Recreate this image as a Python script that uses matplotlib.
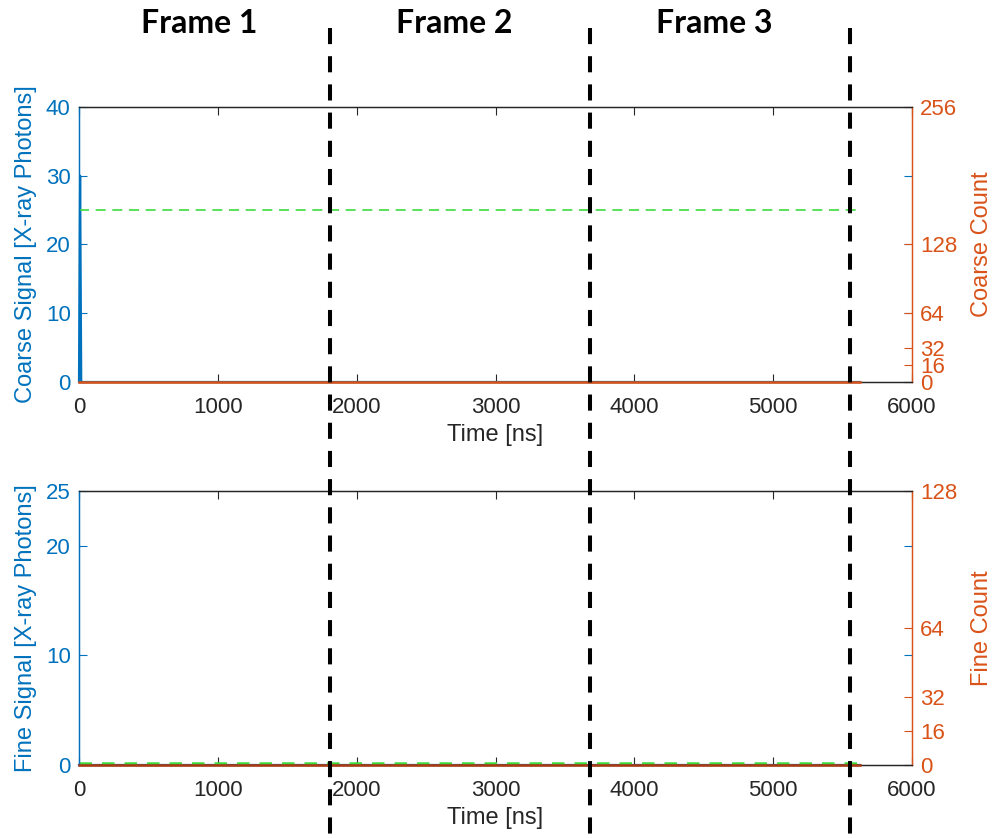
import matplotlib
matplotlib.use("Agg")
import matplotlib.pyplot as plt
from matplotlib.lines import Line2D
from matplotlib.transforms import blended_transform_factory

# ---- data -------------------------------------------------------------
time_ns = [0, 8, 16, 5625]
coarse_signal = [0, 30, 0, 0]
coarse_count = [0, 0, 0, 0]
fine_signal = [0, 0, 0, 0]
fine_count = [0, 0, 0, 0]

threshold_t = [0, 5625]
coarse_threshold = [25, 25]
fine_threshold = [0.2, 0.2]

frame_edges = [1808, 3681, 5553]
frame_names = ["Frame 1", "Frame 2", "Frame 3"]

x_ticks = [0, 1000, 2000, 3000, 4000, 5000, 6000]
coarse_left_ticks = [0, 10, 20, 30, 40]
coarse_right_ticks = [0, 16, 32, 64, 128, 256]
fine_left_ticks = [0, 10, 20, 25]
fine_right_ticks = [0, 16, 32, 64, 128]

# ---- style ------------------------------------------------------------
BLUE = "#0072BD"
ORANGE = "#D95319"
GRAY = "#262626"
GREEN = "#3ddc3d"
FS = 16

plt.rcParams["font.family"] = ["Liberation Sans", "DejaVu Sans"]

W, H = 994, 838
fig = plt.figure(figsize=(W / 100, H / 100), dpi=100)


def px_axes(left, top, right, bottom):
    return fig.add_axes([left / W, 1 - bottom / H, (right - left) / W, (bottom - top) / H])


def style_pair(ax, axr, lticks, rticks, ylim_l, ylim_r, llabel, rlabel):
    ax.set_xlim(0, 6000)
    ax.set_ylim(*ylim_l)
    axr.set_ylim(*ylim_r)
    ax.set_xticks(x_ticks)
    ax.set_yticks(lticks)
    axr.set_yticks(rticks)
    ax.tick_params(axis="x", direction="in", length=6, top=True, colors=GRAY,
                   labelsize=FS, pad=11, width=0.8)
    ax.tick_params(axis="y", direction="in", length=6, right=True, colors=BLUE,
                   labelsize=FS, pad=6, width=0.8)
    axr.tick_params(axis="y", direction="in", length=6, colors=ORANGE,
                    labelsize=FS, pad=6, width=0.8)
    for a in (ax, axr):
        a.spines["top"].set_color(GRAY)
        a.spines["bottom"].set_color(GRAY)
        a.spines["left"].set_color(BLUE)
        a.spines["right"].set_color(ORANGE)
        for s in a.spines.values():
            s.set_linewidth(0.9)
    ax.set_xlabel("Time [ns]", fontsize=FS + 1, color=GRAY, labelpad=4)
    ax.set_ylabel(llabel, fontsize=FS + 1, color=BLUE, labelpad=6)
    axr.set_ylabel(rlabel, fontsize=FS + 1, color=ORANGE, labelpad=10)


# ---- coarse panel -----------------------------------------------------
ax1 = px_axes(79, 107, 912, 382)
ax1r = ax1.twinx()
ax1.plot(time_ns, coarse_signal, color=BLUE, lw=1.6, clip_on=False, zorder=3)
ax1.plot(threshold_t, coarse_threshold, color=GREEN, lw=1.2, ls=(0, (6, 4)), zorder=3)
ax1r.plot(time_ns, coarse_count, color=ORANGE, lw=1.8, clip_on=False, zorder=4)
style_pair(ax1, ax1r, coarse_left_ticks, coarse_right_ticks, (0, 40), (0, 256),
           "Coarse Signal [X-ray Photons]", "Coarse Count")

# ---- fine panel -------------------------------------------------------
ax2 = px_axes(79, 491, 912, 765)
ax2r = ax2.twinx()
ax2.plot(time_ns, fine_signal, color=BLUE, lw=1.6, clip_on=False, zorder=3)
ax2r.plot(time_ns, fine_count, color="#b03a10", lw=1.8, clip_on=False, zorder=3)
ax2.plot(threshold_t, fine_threshold, color=GREEN, lw=1.8, ls=(0, (5, 4)),
         clip_on=False, zorder=5)
style_pair(ax2, ax2r, [0, 10, 20], fine_right_ticks, (0, 25), (0, 128),
           "Fine Signal [X-ray Photons]", "Fine Count")
ax2.set_yticks(fine_left_ticks)
ax2.set_yticklabels(["0", "10", "20", "25"])

# ---- frame boundaries and labels -------------------------------------
trans = blended_transform_factory(ax1.transData, fig.transFigure)
for xe in frame_edges:
    fig.add_artist(Line2D([xe, xe], [1 - 28 / H, 0], transform=trans,
                          color="black", lw=2.9, ls=(0, (4, 3)), zorder=10))

starts = [0] + frame_edges[:-1]
for name, a, b in zip(frame_names, starts, frame_edges):
    fig.text((a + b) / 2 - 40, 1 - 33 / H, name, transform=trans, ha="center",
             va="baseline", fontsize=23, fontweight="bold",
             family=["Lato", "DejaVu Sans"], color="black")

fig.savefig("out.png", dpi=100)
